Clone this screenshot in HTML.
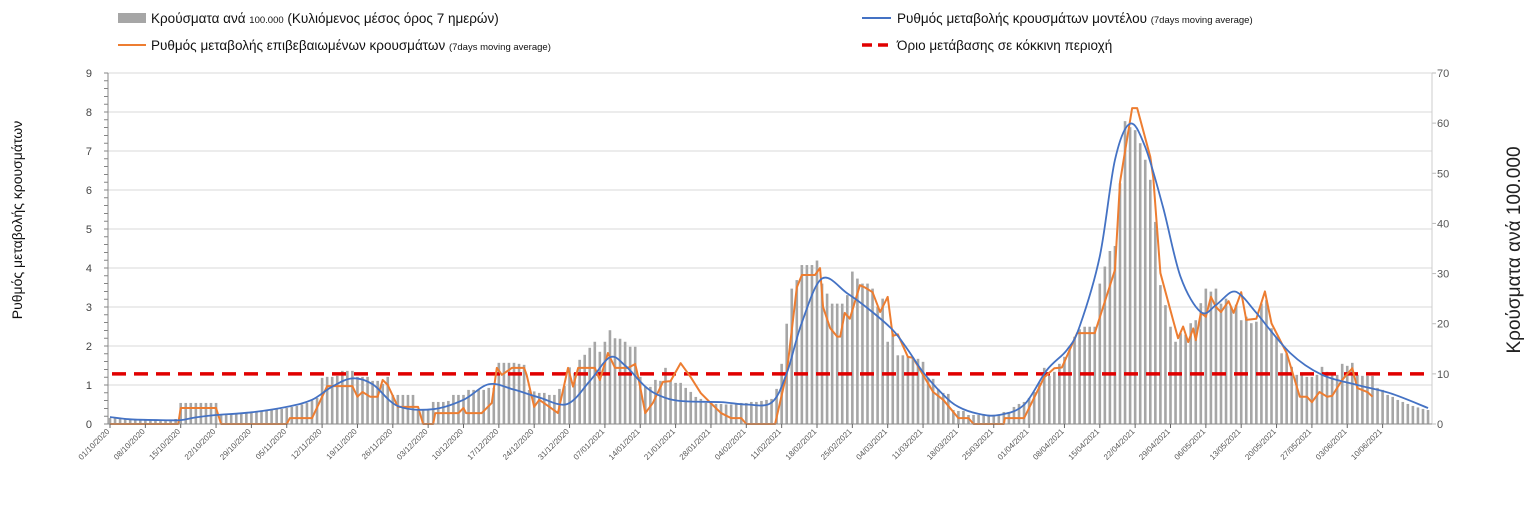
<!DOCTYPE html>
<html><head><meta charset="utf-8"><style>
body{margin:0;background:#fff;}
svg{display:block;font-family:"Liberation Sans","DejaVu Sans",sans-serif;}
</style></head><body>
<svg id="chart" width="1537" height="507" viewBox="0 0 1537 507">
 <g id="legend">
  <g>
   <rect x="118" y="13" width="28" height="10" fill="#a6a6a6"/>
   <text x="151" y="23" font-size="13.5" fill="#111">Κρούσματα ανά <tspan font-size="9.5">100.000</tspan> (Κυλιόμενος μέσος όρος 7 ημερών)</text>
  </g>
  <g>
   <line x1="118" y1="45" x2="146" y2="45" stroke="#ed7d31" stroke-width="2"/>
   <text x="151" y="50" font-size="13.5" fill="#111">Ρυθμός μεταβολής επιβεβαιωμένων κρουσμάτων <tspan font-size="9.5">(7days moving average)</tspan></text>
  </g>
  <g>
   <line x1="862" y1="18" x2="891" y2="18" stroke="#4472c4" stroke-width="2"/>
   <text x="897" y="23" font-size="13.5" fill="#111">Ρυθμός μεταβολής κρουσμάτων μοντέλου <tspan font-size="9.5">(7days moving average)</tspan></text>
  </g>
  <g>
   <line x1="862" y1="45" x2="891" y2="45" stroke="#e00000" stroke-width="3.5" stroke-dasharray="10,6"/>
   <text x="897" y="50" font-size="13.5" fill="#111">Όριο μετάβασης σε κόκκινη περιοχή</text>
  </g>
 </g>
 <text transform="translate(22,220) rotate(-90)" text-anchor="middle" font-size="14" fill="#111">Ρυθμός μεταβολής κρουσμάτων</text>
 <text transform="translate(1520,250) rotate(-90)" text-anchor="middle" font-size="19" fill="#222">Κρούσματα ανά 100.000</text>
 <g id="grid"></g>
 <g id="bars"></g>
 <g id="lines"></g>
 <g id="axes"></g>
</svg>
<script>
// ---- data ----
const startDate = "01/10/2020";
const xTickLabels = ["01/10/2020","08/10/2020","15/10/2020","22/10/2020","29/10/2020","05/11/2020","12/11/2020","19/11/2020","26/11/2020","03/12/2020","10/12/2020","17/12/2020","24/12/2020","31/12/2020","07/01/2021","14/01/2021","21/01/2021","28/01/2021","04/02/2021","11/02/2021","18/02/2021","25/02/2021","04/03/2021","11/03/2021","18/03/2021","25/03/2021","01/04/2021","08/04/2021","15/04/2021","22/04/2021","29/04/2021","06/05/2021","13/05/2021","20/05/2021","27/05/2021","03/06/2021","10/06/2021"];
const leftTicks = [0,1,2,3,4,5,6,7,8,9];
const rightTicks = [0,10,20,30,40,50,60,70];
const casesPer100k = [
1.2,1.2,1.1,1.1,1.0,1.0,1.0,0.9,0.9,0.8,0.8,0.8,0.9,1.0,
4.2,4.2,4.2,4.2,4.2,4.2,4.2,4.2,
1.8,1.9,2.0,2.1,2.2,2.3,2.4,
2.5,2.6,2.7,2.8,2.9,3.0,3.2,
3.4,3.6,3.9,4.2,4.7,5.2,
9.2,9.4,9.4,9.6,10.6,10.6,10.6,
9.4,9.4,9.4,8.6,8.6,8.0,9.4,5.8,
5.8,5.8,5.8,5.8,2.8,2.8,2.8,
4.4,4.4,4.4,4.6,5.8,5.8,5.8,
6.8,6.8,6.8,6.8,7.2,7.2,
12.2,12.2,12.2,12.2,12.0,11.8,6.8,
6.5,6.2,6.2,5.8,5.8,7.0,7.6,
11.3,10.2,12.8,13.8,15.2,16.4,14.4,
16.4,18.7,17.1,17.0,16.4,15.4,15.4,
9.4,7.4,7.4,8.8,8.6,11.2,8.6,
8.2,8.2,7.2,6.4,5.4,5.0,4.2,
4.2,4.0,4.0,3.9,3.9,4.0,4.2,
4.2,4.4,4.4,4.6,4.8,5.0,7.0,
12,20,27,28.7,31.7,31.7,31.7,
32.6,28,26,24,24,24,25.7,
30.4,29,28,28,27,23.4,25,
16.4,18.1,13.7,13.7,13.4,13.2,13,
12.4,9.2,9.0,7,6.2,6.0,2.8,
2.6,2.6,1.8,1.8,1.8,1.8,1.8,
1.8,1.8,2.4,2.4,3.4,4.0,4.4,
5.2,6.4,8.2,11.2,9.6,10.4,12,
13.4,14.8,17.4,18.9,19.4,19.4,19.4,
28,31.4,34.5,35.5,48,60.4,59.2,
58.6,56,52.7,48.7,40.3,27.7,23.7,
19.4,16.4,18.1,17.8,20.1,20.7,24.1,
27,26.4,27,24,25,23.4,23.8,
20.7,21.4,20.1,20.4,24,24.7,19.1,
17.4,14.1,14.1,11.4,9.8,9.8,9.4,
9.4,9.8,11.4,10.4,9.8,9.8,12,
11.6,12.2,9.8,9.6,9.6,9.6,7.2,
6.8,5.8,5.4,4.8,4.4,4.0,3.6,
3.3,3.0,2.8];
const confirmedDays = [0,13.5,14,21,22,35,35.6,40,43,48,49,50,51.5,53,54,55,57,61,62,64,64.4,69,70,70.5,73.6,75.6,76.6,77.6,79.6,82,82.5,84,85,87,88.7,90.7,91.7,92.7,96,97,98.6,100,102.6,104,104.6,106,107.5,109.5,111,113,115,117,119,121,123,125,126,131.7,134,136,137,139.6,140.6,141.2,142.6,144,144.6,145.5,146.5,148.5,149.5,151,152.5,154,155,156,158,159,163,165,168,170,171,177,177.2,181,185,187,188.5,191.5,195,199,200,202.4,203.4,206,206.6,208,210.5,211.5,212.5,213.5,214.5,215,216,217,218,219,220,221.5,222.5,224,225,227,228.7,230,233,235.6,237,238,239.5,241,242,244,246,247,249,250];
const confirmedRate = [0,0,0.41,0.41,0,0,0.15,0.15,0.97,0.97,0.7,0.82,0.7,0.7,1.13,1.0,0.44,0.44,0,0,0.28,0.28,0.41,0.28,0.28,0.54,1.44,1.26,1.44,1.44,1.26,0.44,0.62,0.44,0.28,1.44,0.96,1.44,1.44,1.13,1.82,1.44,1.44,1.54,1.2,0.28,0.54,1.08,1.1,1.56,1.2,0.79,0.53,0.28,0.15,0.15,0,0,1.3,3.5,3.82,3.82,4.0,3.0,2.46,2.24,2.24,2.85,2.7,3.56,3.5,3.38,2.87,3.26,2.26,2.3,1.72,1.7,0.82,0.62,0.15,0.15,0,0,0.15,0.15,1.2,1.43,1.45,2.33,2.33,3.95,6.2,8.1,8.1,6.85,6.3,3.87,2.67,2.2,2.5,2.1,2.45,2.15,2.85,2.75,3.26,3.0,2.87,3.15,2.85,3.38,2.67,2.7,3.4,2.58,1.82,0.7,0.7,0.56,0.82,0.7,0.72,1.13,1.43,0.92,0.82,0.7];
const modelDays = [0,4,10,14,17,21,28,35,40,44,48,52,57,64,70,75,80,85,90.5,95,99,102,106,109,113,121,126,131,134,137,141,146,150.5,155,158,161,165,168,172,176,181,185.5,189.5,192,196,199,202,205,208.5,212,216,219,222,224,227,233.7,240,247,253.5,261];
const modelRate = [0.18,0.12,0.1,0.1,0.17,0.23,0.3,0.44,0.62,0.96,1.17,1.02,0.46,0.38,0.62,1.02,0.88,0.68,0.51,1.1,1.71,1.5,0.96,0.72,0.59,0.56,0.5,0.55,1.3,2.6,3.73,3.35,2.92,2.41,1.9,1.33,0.75,0.44,0.26,0.23,0.49,1.38,1.9,2.5,4.3,6.77,7.7,7.1,5.57,3.77,2.87,3.05,3.38,3.3,2.85,1.82,1.26,1.0,0.79,0.41];
const redThreshold = 10; // cases per 100k (right axis)

// ---- scales ----
const X0=110, DX=5.05, Y0=424, PT=73, PL=108, PR=1432;
const xDay = d => X0 + DX*d;
const yL = v => Y0 - (Y0-PT)*v/9;
const yR = v => Y0 - (Y0-PT)*v/70;
const NS="http://www.w3.org/2000/svg";
function mk(tag, parent, attrs){const e=document.createElementNS(NS,tag);for(const k in attrs)e.setAttribute(k,attrs[k]);parent.appendChild(e);return e;}
const grid=document.getElementById('grid'), bars=document.getElementById('bars'), lines=document.getElementById('lines'), axes=document.getElementById('axes');

leftTicks.forEach(t=>{
  if(t>0){const g=mk('line',grid,{x1:PL,x2:PR,y1:yL(t),y2:yL(t),stroke:'#d9d9d9','stroke-width':1});
  
  }
  const tx=mk('text',axes,{x:92,y:yL(t)+4,'text-anchor':'end','font-size':11,fill:'#444'});
  tx.textContent=t;
  
  
});
rightTicks.forEach(t=>{
  const tx=mk('text',axes,{x:1437,y:yR(t)+4,'font-size':11,fill:'#555'});
  tx.textContent=t;
  
  
  mk('line',axes,{x1:PR,x2:PR+4,y1:yR(t),y2:yR(t),stroke:'#bbb'});
});
// minor left ticks
for(let i=0;i<=45;i++){mk('line',axes,{x1:PL-4,x2:PL,y1:Y0-(Y0-PT)*i/45,y2:Y0-(Y0-PT)*i/45,stroke:'#666','stroke-width':0.8});}
mk('line',axes,{x1:PL,x2:PL,y1:PT,y2:Y0,stroke:'#888'});
mk('line',axes,{x1:PR,x2:PR,y1:PT,y2:Y0,stroke:'#ccc'});
mk('line',axes,{x1:PL,x2:PR,y1:Y0,y2:Y0,stroke:'#888'});

casesPer100k.forEach((v,d)=>{
  const b=mk('rect',bars,{x:xDay(d)-1.3,y:yR(v),width:2.6,height:Y0-yR(v),fill:'#a6a6a6'});
  
  
});

xTickLabels.forEach((lab,i)=>{
  const x=xDay(i*7);
  mk('line',axes,{x1:x,x2:x,y1:Y0,y2:Y0+4,stroke:'#666'});
  const t=mk('text',axes,{x:x,y:Y0+8,'text-anchor':'end','font-size':8,fill:'#555',transform:`rotate(-45 ${x} ${Y0+8})`});
  t.textContent=lab;
  
  
});

// red threshold
const rl=mk('line',lines,{x1:PL+4,x2:PR-8,y1:yR(redThreshold),y2:yR(redThreshold),stroke:'#e00000','stroke-width':3.5,'stroke-dasharray':'14,8'});



// orange polyline
const op=mk('polyline',lines,{points:confirmedDays.map((d,i)=>xDay(d)+','+yL(confirmedRate[i])).join(' '),fill:'none',stroke:'#ed7d31','stroke-width':2,'stroke-linejoin':'round'});



// blue smooth (Catmull-Rom)
const P=modelDays.map((d,i)=>[xDay(d),yL(modelRate[i])]);
let dstr='M'+P[0][0]+','+P[0][1];
for(let i=0;i<P.length-1;i++){
  const p0=P[Math.max(0,i-1)],p1=P[i],p2=P[i+1],p3=P[Math.min(P.length-1,i+2)];
  const c1=[p1[0]+(p2[0]-p0[0])/6,p1[1]+(p2[1]-p0[1])/6];
  const c2=[p2[0]-(p3[0]-p1[0])/6,p2[1]-(p3[1]-p1[1])/6];
  dstr+=` C${c1[0]},${c1[1]} ${c2[0]},${c2[1]} ${p2[0]},${p2[1]}`;
}
const bp=mk('path',lines,{d:dstr,fill:'none',stroke:'#4472c4','stroke-width':1.8});


</script>
</body></html>
